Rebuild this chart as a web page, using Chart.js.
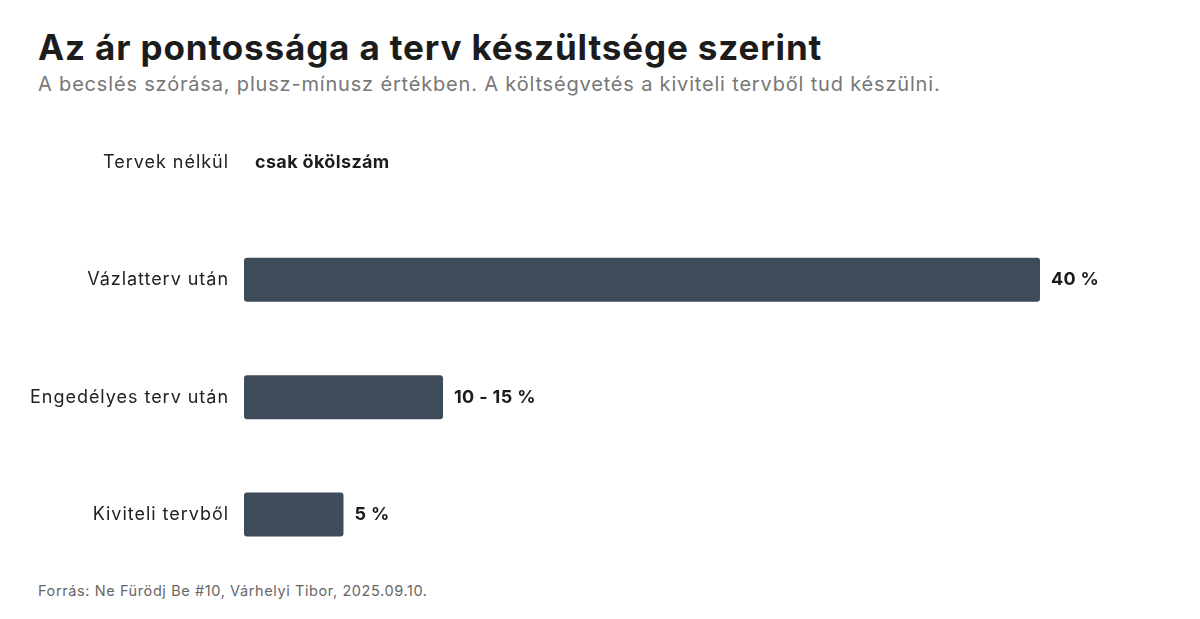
<!DOCTYPE html>
<html>
<head>
<meta charset="utf-8">
<script src="https://cdn.jsdelivr.net/npm/chart.js@4"></script>
<style>
  html, body { margin:0; padding:0; background:#fff; width:1200px; height:619px; overflow:hidden; font-family: Inter, sans-serif; }
  #title { position:absolute; left:38px; top:26px; font-size:35px; font-weight:700; color:#1c1c1c; letter-spacing:0.86px; white-space:nowrap; }
  #subtitle { position:absolute; left:38px; top:72px; font-size:20px; color:#777; letter-spacing:0.82px; white-space:nowrap; }
  #footer { position:absolute; left:38px; top:582px; font-size:14.5px; color:#666; letter-spacing:0.6px; white-space:nowrap; }
  #c { position:absolute; left:0; top:78px; }
</style>
</head>
<body>
<div id="title">Az ár pontossága a terv készültsége szerint</div>
<div id="subtitle">A becslés szórása, plusz-mínusz értékben. A költségvetés a kiviteli tervből tud készülni.</div>
<div id="footer">Forrás: Ne Fürödj Be #10, Várhelyi Tibor, 2025.09.10.</div>
<canvas id="c" width="1200" height="521" style="width:1200px;height:521px"></canvas>
<script>
const categories = ["Tervek nélkül", "Vázlatterv után", "Engedélyes terv után", "Kiviteli tervből"];
const values = [0, 40, 10, 5];
const valueLabels = ["csak ökölszám", "40 %", "10 - 15 %", "5 %"];

const spacingPlugin = {
  id: 'spacing',
  beforeDraw(chart) { chart.ctx.letterSpacing = '0.97px'; }
};
const labelPlugin = {
  id: 'valueLabels',
  afterDatasetsDraw(chart) {
    const ctx = chart.ctx;
    const meta = chart.getDatasetMeta(0);
    ctx.save();
    ctx.letterSpacing = '0.35px';
    ctx.font = '700 18px Inter, sans-serif';
    ctx.fillStyle = '#1c1c1c';
    ctx.textAlign = 'left';
    ctx.textBaseline = 'middle';
    meta.data.forEach((bar, i) => {
      ctx.fillText(valueLabels[i], bar.x + 11, bar.y);
    });
    ctx.restore();
  }
};

new Chart(document.getElementById('c'), {
  type: 'bar',
  data: {
    labels: categories,
    datasets: [{
      data: values,
      backgroundColor: '#3e4b59',
      borderRadius: 3,
      borderSkipped: false,
      barPercentage: 0.75,
      categoryPercentage: 0.5
    }]
  },
  options: {
    indexAxis: 'y',
    responsive: false,
    animation: false,
    devicePixelRatio: 1,
    layout: { padding: { left: 0, right: 60.5, top: 0, bottom: 0 } },
    plugins: { legend: { display: false }, tooltip: { enabled: false } },
    scales: {
      x: { display: false, min: 0, max: 45 },
      y: {
        grid: { display: false, drawTicks: false },
        border: { display: false },
        ticks: { color: '#222', font: { size: 18, family: 'Inter, sans-serif' }, padding: 15 },
        afterFit(scale) { scale.width = 244; }
      }
    }
  },
  plugins: [spacingPlugin, labelPlugin]
});
</script>
</body>
</html>
